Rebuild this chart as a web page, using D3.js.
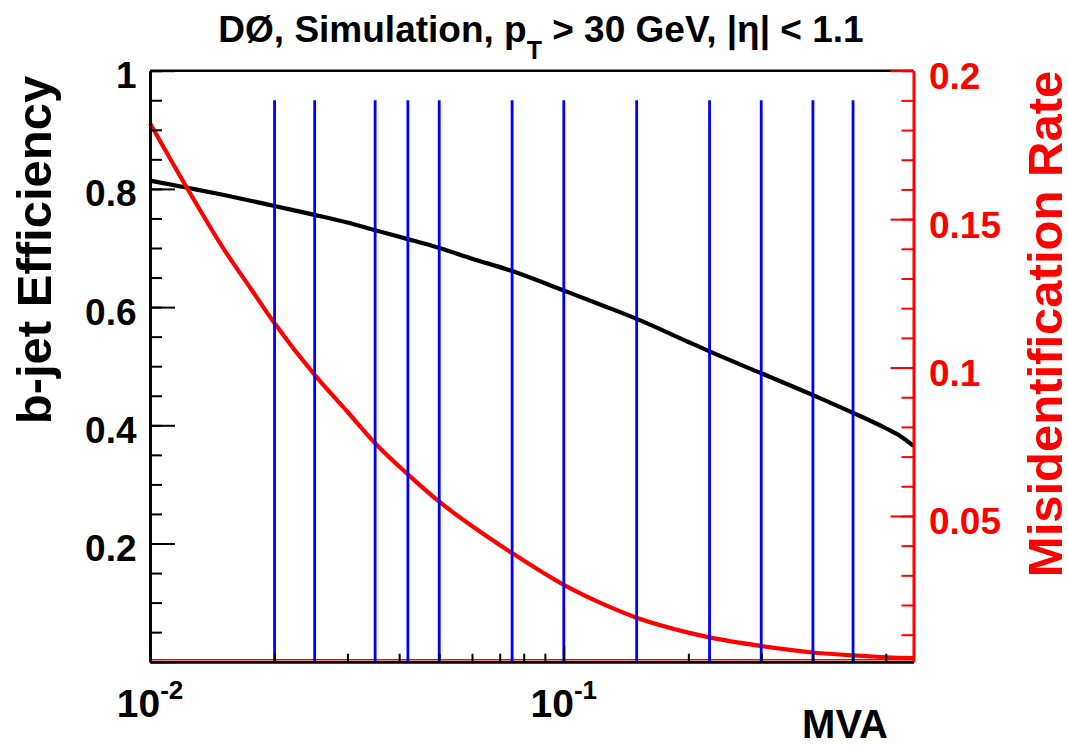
<!DOCTYPE html>
<html>
<head>
<meta charset="utf-8">
<script src="https://cdn.jsdelivr.net/npm/d3@7"></script>
<style>
  html, body { margin: 0; padding: 0; background: #fff; }
  svg { display: block; }
  text { font-family: "Liberation Sans", Arial, Helvetica, sans-serif; font-weight: bold; }
</style>
</head>
<body>
<svg id="chart" width="1068" height="745"></svg>
<script>
// ---- data ----
const mvaCut = [0.01, 0.0125, 0.015, 0.0175, 0.02, 0.025, 0.03, 0.035, 0.042, 0.05, 0.06, 0.075, 0.1, 0.125, 0.15, 0.2, 0.225, 0.3, 0.4, 0.5, 0.6, 0.65, 0.7];
const bEfficiency = [0.814, 0.801, 0.790, 0.780, 0.771, 0.756, 0.743, 0.730, 0.715, 0.700, 0.682, 0.661, 0.628, 0.602, 0.580, 0.541, 0.525, 0.488, 0.451, 0.421, 0.395, 0.382, 0.365];
const misidRate = [0.1823, 0.1587, 0.1404, 0.1267, 0.1149, 0.0975, 0.0851, 0.0745, 0.0640, 0.0548, 0.0466, 0.0375, 0.0268, 0.0202, 0.0157, 0.0107, 0.0091, 0.0062, 0.0040, 0.0030, 0.0024, 0.0022, 0.0021];
const operatingPoints = [0.02, 0.025, 0.035, 0.042, 0.05, 0.075, 0.1, 0.15, 0.225, 0.3, 0.4, 0.5];
const opLineTop = 0.95; // in efficiency units
const leftTickLabels = ["0.2", "0.4", "0.6", "0.8", "1"];
const leftTickValues = [0.2, 0.4, 0.6, 0.8, 1];
const rightTickLabels = ["0.05", "0.1", "0.15", "0.2"];
const rightTickValues = [0.05, 0.1, 0.15, 0.2];
const xMajorTicks = [0.01, 0.1];
const xMajorExp = ["-2", "-1"];
const xMinorTicks = [0.02, 0.03, 0.04, 0.05, 0.06, 0.07, 0.08, 0.09, 0.2, 0.3, 0.4, 0.5, 0.6];

// ---- layout ----
const L = 150, R = 913.5, T = 70.7, B = 661.7;
const svg = d3.select("#chart");

const x = d3.scaleLog().domain([0.01, 0.7]).range([L, R]);
const yL = d3.scaleLinear().domain([0, 1]).range([B, T]);
const yR = d3.scaleLinear().domain([0.0009, 0.2]).range([B, T]);

// red baseline just above the bottom axis
svg.append("line").attr("x1", L).attr("x2", R).attr("y1", B - 2).attr("y2", B - 2)
  .attr("stroke", "#ff0000").attr("stroke-width", 1.6);

// curves
const lineEff = d3.line().x((d, i) => x(mvaCut[i])).y(d => yL(d)).curve(d3.curveMonotoneX);
const lineMis = d3.line().x((d, i) => x(mvaCut[i])).y(d => yR(d)).curve(d3.curveMonotoneX);

svg.append("path").datum(bEfficiency).attr("d", lineEff)
  .attr("fill", "none").attr("stroke", "#000").attr("stroke-width", 4.2);
svg.append("path").datum(misidRate).attr("d", lineMis)
  .attr("fill", "none").attr("stroke", "#ff0000").attr("stroke-width", 4.2);

// operating point lines
svg.append("g").selectAll("line").data(operatingPoints).join("line")
  .attr("x1", d => x(d)).attr("x2", d => x(d))
  .attr("y1", yL(0)).attr("y2", yL(opLineTop))
  .attr("stroke", "#0000ff").attr("stroke-width", 2.8);

// ---- axes ----
function styleAxis(g, color, width) {
  g.selectAll("path").attr("stroke", color).attr("stroke-width", width);
  g.selectAll("line").attr("stroke", color).attr("stroke-width", 2);
  g.selectAll("text").remove();
}

// top frame
svg.append("line").attr("x1", L).attr("x2", R).attr("y1", T).attr("y2", T)
  .attr("stroke", "#000").attr("stroke-width", 2.4);

// left axis (ticks pointing inward)
const leftMinor = d3.range(0, 1.0001, 0.05);
svg.append("g").attr("transform", `translate(${L},0)`)
  .call(d3.axisRight(yL).tickValues(leftMinor).tickSize(12).tickSizeOuter(0))
  .call(g => styleAxis(g, "#000", 2.6));
svg.append("g").attr("transform", `translate(${L},0)`)
  .call(d3.axisRight(yL).tickValues([0].concat(leftTickValues)).tickSize(25).tickSizeOuter(0))
  .call(g => styleAxis(g, "#000", 2.6));
svg.append("g").selectAll("text").data(leftTickValues).join("text")
  .attr("x", L - 13.5).attr("y", d => yL(d) + 17.5)
  .attr("text-anchor", "end").attr("font-size", 37).attr("fill", "#000")
  .text((d, i) => leftTickLabels[i]);

// bottom axis
svg.append("g").attr("transform", `translate(0,${B})`)
  .call(d3.axisTop(x).tickValues(xMinorTicks).tickSize(8).tickSizeOuter(0))
  .call(g => styleAxis(g, "#000", 2.6));
svg.append("g").attr("transform", `translate(0,${B})`)
  .call(d3.axisTop(x).tickValues(xMajorTicks).tickSize(16).tickSizeOuter(0))
  .call(g => styleAxis(g, "#000", 2.6));
const xl = svg.append("g").selectAll("text").data(xMajorTicks).join("text")
  .attr("x", d => x(d)).attr("y", 716.5)
  .attr("text-anchor", "middle").attr("fill", "#000").attr("font-size", 39);
xl.append("tspan").text("10");
xl.append("tspan").attr("font-size", 26).attr("dy", -18).text((d, i) => xMajorExp[i]);

// right axis (red)
const rightMinor = d3.range(0.01, 0.2001, 0.01);
svg.append("g").attr("transform", `translate(${R},0)`)
  .call(d3.axisLeft(yR).tickValues(rightMinor).tickSize(12).tickSizeOuter(0))
  .call(g => styleAxis(g, "#ff0000", 2.6));
svg.append("g").attr("transform", `translate(${R},0)`)
  .call(d3.axisLeft(yR).tickValues(rightTickValues).tickSize(23).tickSizeOuter(0))
  .call(g => styleAxis(g, "#ff0000", 2.6));
svg.append("g").selectAll("text").data(rightTickValues).join("text")
  .attr("x", 929).attr("y", d => yR(d) + 18.5)
  .attr("text-anchor", "start").attr("font-size", 37).attr("fill", "#ff0000")
  .text((d, i) => rightTickLabels[i]);

// ---- titles ----
const title = svg.append("text").attr("x", 541).attr("y", 42)
  .attr("text-anchor", "middle").attr("font-size", 37).attr("fill", "#000");
title.append("tspan").text("DØ, Simulation, p");
title.append("tspan").attr("font-size", 25).attr("dy", 17).text("T");
title.append("tspan").attr("dy", -17).text(" > 30 GeV, |η| < 1.1");

svg.append("text").attr("transform", "translate(51,250) rotate(-90)")
  .attr("text-anchor", "middle").attr("font-size", 49).attr("fill", "#000")
  .text("b-jet Efficiency");

svg.append("text").attr("transform", "translate(1062,324) rotate(-90)")
  .attr("text-anchor", "middle").attr("font-size", 49).attr("fill", "#ff0000")
  .text("Misidentification Rate");

svg.append("text").attr("x", 888).attr("y", 738)
  .attr("text-anchor", "end").attr("font-size", 40).attr("fill", "#000")
  .text("MVA");
</script>
</body>
</html>
